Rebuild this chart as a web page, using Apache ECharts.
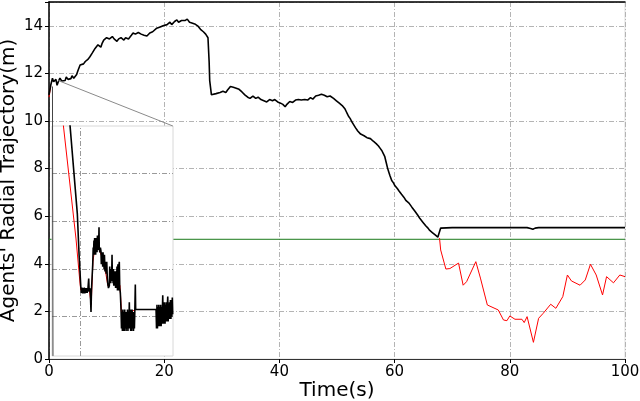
<!DOCTYPE html>
<html>
<head>
<meta charset="utf-8">
<script src="https://cdn.jsdelivr.net/npm/echarts@6/dist/echarts.min.js"></script>
<style>
  html, body { margin: 0; padding: 0; background: #fff; }
  #chart { width: 640px; height: 401px; }
</style>
</head>
<body>
<div id="chart"></div>
<script>
// main trajectory (black), [time, radius]
var mainTrace = [
  [0, 11.1], [0.3, 11.5], [0.6, 11.8], [0.8, 11.65], [1.0, 11.6], [1.2, 11.75], [1.4, 11.5], [1.7, 11.7], [1.9, 11.8], [2.2, 11.68],
  [2.5, 11.75], [2.8, 11.7], [3.0, 11.85], [3.3, 11.75], [3.5, 11.82], [3.8, 11.78], [4.0, 11.9], [4.3, 11.8], [4.5, 11.88], [4.8, 11.95],
  [5.0, 12.1], [5.2, 12.05], [5.4, 12.35], [5.7, 12.3], [6.0, 12.4], [6.3, 12.5], [6.5, 12.45], [6.8, 12.6], [7.1, 12.7], [7.3, 12.65],
  [7.5, 12.85], [7.8, 12.9], [8.0, 13.05], [8.3, 13.0], [8.5, 13.2], [8.8, 13.15], [9.0, 13.1], [9.2, 13.25], [9.5, 13.4], [9.8, 13.35],
  [10.0, 13.5], [10.3, 13.42], [10.5, 13.45], [10.8, 13.5], [11.0, 13.55], [11.3, 13.45], [11.5, 13.4], [11.8, 13.35], [12.1, 13.45], [12.5, 13.5],
  [12.8, 13.45], [13.0, 13.4], [13.3, 13.5], [13.5, 13.55], [13.8, 13.45], [14.0, 13.5], [14.3, 13.6], [14.6, 13.7], [14.8, 13.62], [15.0, 13.65],
  [15.3, 13.7], [15.5, 13.72], [15.8, 13.68], [16.0, 13.65], [16.3, 13.62], [16.5, 13.6], [16.8, 13.65], [17.0, 13.57], [17.3, 13.65], [17.5, 13.7],
  [17.8, 13.68], [18.0, 13.75], [18.3, 13.8], [18.7, 13.9], [19.0, 13.85], [19.3, 13.95], [19.6, 13.9], [19.8, 14.0], [20.1, 13.98], [20.5, 14.05],
  [20.8, 14.1], [21.0, 14.15], [21.3, 14.05], [21.5, 14.1], [21.8, 14.18], [22.2, 14.25], [22.5, 14.15], [22.7, 14.2], [23.0, 14.22], [23.3, 14.3],
  [23.6, 14.22], [23.8, 14.2], [24.0, 14.28], [24.2, 14.25], [24.4, 14.15], [24.6, 14.15], [24.8, 14.12], [25.0, 14.1], [25.3, 14.08], [25.5, 14.05],
  [25.8, 14.0], [26.0, 13.95], [26.3, 13.85], [26.5, 13.8], [26.8, 13.75], [27.0, 13.7], [27.2, 13.65], [27.4, 13.6], [27.6, 13.5], [27.8, 12.5],
  [27.9, 11.7], [28.2, 11.1], [28.5, 11.05], [29.0, 11.15], [29.3, 11.1], [29.7, 11.2], [30.0, 11.15], [30.2, 11.25], [30.5, 11.18], [30.7, 11.2],
  [31.0, 11.3], [31.2, 11.35], [31.5, 11.45], [31.7, 11.5], [32.0, 11.42], [32.2, 11.4], [32.5, 11.38], [32.7, 11.35], [33.0, 11.33], [33.2, 11.3],
  [33.5, 11.22], [33.7, 11.2], [34.0, 11.1], [34.2, 11.05], [34.5, 11.0], [34.9, 10.95], [35.2, 11.02], [35.4, 11.05], [35.7, 10.98], [35.9, 10.95],
  [36.1, 11.03], [36.3, 11.0], [36.6, 10.92], [36.8, 10.9], [37.1, 10.88], [37.3, 10.85], [37.6, 10.9], [37.8, 10.8], [38.1, 10.85], [38.3, 10.9],
  [38.6, 10.82], [38.8, 10.85], [39.0, 10.92], [39.2, 10.9], [39.5, 10.85], [39.7, 10.8], [40.0, 10.78], [40.2, 10.75], [40.4, 10.72], [40.6, 10.7],
  [40.8, 10.65], [41.0, 10.6], [41.3, 10.7], [41.5, 10.75], [41.8, 10.82], [42.0, 10.85], [42.3, 10.78], [42.5, 10.8], [42.8, 10.88], [43.0, 10.95],
  [43.3, 10.9], [43.5, 10.85], [43.8, 10.88], [44.1, 10.8], [44.4, 10.9], [44.6, 10.95], [44.9, 10.88], [45.1, 10.9], [45.4, 10.98], [45.6, 11.0],
  [45.8, 10.92], [46.0, 10.95], [46.3, 11.05], [46.5, 11.1], [46.8, 11.08], [47.0, 11.1], [47.3, 11.12], [47.5, 11.05], [47.8, 11.08], [48.0, 11.05],
  [48.3, 11.02], [48.5, 11.0], [48.8, 11.05], [49.1, 11.0], [49.4, 10.95], [49.6, 10.9], [49.9, 10.85], [50.1, 10.8], [50.4, 10.75], [50.6, 10.7],
  [50.9, 10.65], [51.1, 10.6], [51.4, 10.5], [51.6, 10.4], [51.8, 10.3], [52.0, 10.2], [52.3, 10.1], [52.5, 10.0], [52.8, 9.88], [53.0, 9.8],
  [53.2, 9.72], [53.4, 9.65], [53.6, 9.58], [53.8, 9.5], [54.1, 9.45], [54.4, 9.4], [54.7, 9.38], [55.0, 9.35], [55.2, 9.3], [55.5, 9.3],
  [55.8, 9.26], [56.0, 9.24], [56.3, 9.15], [56.5, 9.1], [56.8, 9.05], [57.0, 9.0], [57.2, 8.95], [57.5, 8.85], [57.8, 8.75], [58.0, 8.65],
  [58.3, 8.5], [58.5, 8.3], [58.8, 8.0], [59.0, 7.85], [59.2, 7.7], [59.5, 7.5], [59.8, 7.4], [60.0, 7.3], [60.3, 7.22], [60.5, 7.15],
  [60.8, 7.05], [61.0, 7.0], [61.2, 6.92], [61.4, 6.85], [61.6, 6.8], [61.8, 6.75], [62.0, 6.65], [62.2, 6.6], [62.5, 6.55], [62.7, 6.5],
  [63.0, 6.38], [63.2, 6.3], [63.5, 6.22], [63.7, 6.15], [64.0, 6.05], [64.4, 5.9], [64.6, 5.85], [64.9, 5.75], [65.1, 5.68], [65.4, 5.6],
  [65.6, 5.55], [65.8, 5.5], [66.1, 5.4], [66.4, 5.35], [66.6, 5.3], [66.9, 5.25], [67.1, 5.2], [67.3, 5.15], [67.5, 5.12], [67.8, 5.08],
  [68.0, 5.5], [68.3, 5.52], [70, 5.52], [75, 5.52], [80, 5.52], [83, 5.52], [83.6, 5.48], [84, 5.45], [84.4, 5.5], [85, 5.52],
  [90, 5.52], [95, 5.52], [100, 5.52]
];

// red trajectory in main plot
var redTrace = [
  [0, 11.0], [0.3, 11.45], null,
  [67.8, 5.08], [68.0, 4.58], [68.9, 3.78], [69.6, 3.8], [71.1, 4.03], [71.9, 3.1], [72.5, 3.25], [74.1, 4.09], [74.9, 3.4], [76.1, 2.27],
  [78.0, 2.06], [78.9, 1.64], [79.5, 1.61], [80.0, 1.81], [80.9, 1.67], [82.1, 1.67], [82.5, 1.53], [83.0, 1.78], [84.1, 0.7], [85.0, 1.71],
  [85.8, 1.92], [87.1, 2.3], [88.0, 2.13], [89.2, 2.62], [90.0, 3.53], [90.7, 3.28], [92.2, 3.1], [93.1, 3.32], [94.0, 3.98], [95.0, 3.53],
  [96.1, 2.69], [96.8, 3.46], [98.0, 3.2], [99.1, 3.53], [100, 3.46]
];

var greenLevel = 5.03;

// inset (zoomed) traces
var insetBlackTrace = [
  [3.5, 10.4], [4.9, 6.3], [5.2, 4.6], [5.5, 3.25], [5.6, 3.0], [5.7, 3.22], [5.8, 2.98], [5.9, 3.2], [6.0, 2.98], [6.1, 3.22],
  [6.2, 2.98], [6.3, 3.2], [6.4, 3.0], [6.5, 3.2], [6.6, 3.0], [6.75, 3.2], [6.87, 3.6], [6.95, 3.05], [7.05, 3.2], [7.15, 3.0],
  [7.27, 2.2], [7.35, 3.1], [7.57, 4.2], [7.65, 4.9], [7.7, 4.6], [7.78, 5.2], [7.84, 4.7], [7.9, 5.3], [7.96, 4.6], [8.02, 5.2],
  [8.08, 4.6], [8.14, 5.3], [8.2, 4.7], [8.26, 5.2], [8.32, 4.7], [8.38, 5.4], [8.44, 4.8], [8.5, 5.2], [8.58, 4.8], [8.66, 5.75],
  [8.7, 4.9], [8.8, 4.7], [8.9, 4.9], [9.0, 4.75], [9.06, 4.2], [9.12, 4.7], [9.18, 4.2], [9.24, 4.6], [9.3, 4.1], [9.36, 4.7],
  [9.42, 4.1], [9.48, 4.6], [9.54, 4.0], [9.6, 4.6], [9.7, 3.9], [9.8, 4.3], [9.9, 3.8], [10.0, 4.3], [10.1, 3.6], [10.17, 3.4],
  [10.3, 3.2], [10.45, 3.3], [10.52, 4.1], [10.58, 3.4], [10.64, 4.0], [10.7, 3.4], [10.76, 4.0], [10.84, 3.5], [10.92, 4.6], [10.98, 3.5],
  [11.04, 4.0], [11.1, 3.4], [11.16, 4.0], [11.22, 3.3], [11.3, 3.9], [11.38, 3.3], [11.46, 3.9], [11.54, 3.2], [11.62, 3.9], [11.7, 3.2],
  [11.78, 4.1], [11.86, 3.1], [11.94, 4.2], [12.02, 3.1], [12.1, 4.1], [12.18, 4.3], [12.26, 3.2], [12.36, 3.0], [12.48, 2.3], [12.56, 1.5],
  [12.64, 2.2], [12.72, 1.4], [12.8, 2.3], [12.88, 1.4], [12.96, 2.2], [13.04, 1.4], [13.12, 2.3], [13.2, 1.5], [13.28, 2.2], [13.36, 1.4],
  [13.44, 2.2], [13.52, 1.5], [13.6, 2.3], [13.68, 1.4], [13.76, 2.2], [13.84, 1.5], [13.92, 2.6], [14.0, 1.5], [14.08, 2.3], [14.16, 1.4],
  [14.24, 2.3], [14.32, 1.4], [14.4, 2.3], [14.48, 1.5], [14.56, 2.2], [14.64, 1.4], [14.72, 2.2], [14.8, 1.5], [14.88, 2.3], [14.96, 3.35],
  [15.02, 2.3], [15.08, 2.3], [18.56, 2.3], [18.64, 1.5], [18.72, 2.5], [18.8, 1.5], [18.88, 2.4], [18.96, 1.6], [19.04, 2.5], [19.12, 1.6],
  [19.2, 2.4], [19.28, 1.6], [19.36, 2.5], [19.44, 1.6], [19.52, 2.4], [19.6, 1.7], [19.72, 2.9], [19.8, 1.7], [19.88, 2.6], [19.96, 1.7],
  [20.04, 2.6], [20.12, 1.7], [20.2, 2.5], [20.28, 1.8], [20.36, 2.6], [20.44, 1.8], [20.52, 2.5], [20.59, 2.85], [20.66, 1.8], [20.74, 2.5],
  [20.82, 1.9], [20.9, 2.6], [20.98, 1.9], [21.06, 2.7], [21.14, 1.9], [21.22, 2.7], [21.3, 2.0], [21.38, 2.8], [21.45, 2.1]
];
var insetRedTrace = [
  [2.3, 10.4], [4.67, 5.26], [5.36, 3.41], [5.5, 3.1], [7.0, 3.1], [7.3, 2.5], [7.6, 4.3], [8.0, 5.0], [8.7, 4.8], [9.5, 4.3],
  [10.2, 3.3], [10.5, 3.4], [11.0, 4.0], [12.3, 3.3], [12.6, 2.0], [15.0, 2.3], [18.5, 2.3], [21.45, 2.3]
];
var insetGridY = [2, 4, 6, 8];
var insetGridX = [5.4];

var font = 'DejaVu Sans';
var gridDash = [5, 2, 1, 2];

var chart = echarts.init(document.getElementById('chart'));
chart.setOption({
  animation: false,
  textStyle: { fontFamily: font },
  grid: [
    { left: 49, right: 15, top: 2, bottom: 42, z: 0, containLabel: false, outerBoundsMode: 'none',
      show: true, borderColor: '#dcdcdc', borderWidth: 1, backgroundColor: 'transparent' },
    { left: 52, width: 121, top: 126, height: 230, z: 5, containLabel: false, outerBoundsMode: 'none',
      show: true, borderColor: '#d8d8d8', borderWidth: 1, backgroundColor: '#fff' }
  ],
  xAxis: [
    {
      gridIndex: 0, type: 'value', min: 0, max: 100, interval: 20, z: 1,
      name: 'Time(s)', nameLocation: 'middle', nameGap: 22, nameMoveOverlap: false,
      nameTextStyle: { fontSize: 20, color: '#000', fontFamily: font },
      axisLine: { lineStyle: { color: '#333', width: 1 } },
      axisTick: { length: 4, lineStyle: { color: '#000' } },
      axisLabel: { fontSize: 15, color: '#000', margin: 6, fontFamily: font },
      splitLine: { show: true, lineStyle: { color: '#b4b4b4', type: gridDash, width: 1 } }
    },
    {
      gridIndex: 0, type: 'value', min: 0, max: 100, position: 'top', z: 1,
      axisLine: { lineStyle: { color: '#000', width: 1.5 } },
      axisTick: { show: false }, axisLabel: { show: false }, splitLine: { show: false }
    },
    {
      gridIndex: 1, type: 'value', min: 0.5, max: 21.5, z: 6,
      axisLine: { show: false }, axisTick: { show: false }, axisLabel: { show: false }, splitLine: { show: false }
    }
  ],
  yAxis: [
    {
      gridIndex: 0, type: 'value', min: 0, max: 15, interval: 2, z: 1,
      name: "Agents' Radial Trajectory(m)", nameLocation: 'middle', nameGap: 30, nameRotate: 90, nameMoveOverlap: false,
      nameTextStyle: { fontSize: 20, color: '#000', fontFamily: font },
      axisLine: { show: true, lineStyle: { color: '#000', width: 1.5 } },
      axisTick: { show: true, length: 4, lineStyle: { color: '#000' } },
      axisLabel: { fontSize: 15, color: '#000', margin: 6, fontFamily: font,
        formatter: function (v) { return v > 14 ? '' : v; } },
      splitLine: { show: true, lineStyle: { color: '#b4b4b4', type: gridDash, width: 1 } }
    },
    {
      gridIndex: 1, type: 'value', min: 0.35, max: 10, z: 6,
      axisLine: { show: false }, axisTick: { show: false }, axisLabel: { show: false }, splitLine: { show: false }
    }
  ],
  series: [
    {
      type: 'line', xAxisIndex: 0, yAxisIndex: 0, z: 2, symbol: 'none', silent: true,
      data: [[0, greenLevel], [100, greenLevel]],
      lineStyle: { color: '#1a7a1a', width: 1 }
    },
    {
      type: 'line', xAxisIndex: 0, yAxisIndex: 0, z: 3, symbol: 'none', silent: true, connectNulls: false,
      data: redTrace,
      lineStyle: { color: '#ff0000', width: 1 }
    },
    {
      type: 'line', xAxisIndex: 0, yAxisIndex: 0, z: 4, symbol: 'none', silent: true,
      data: mainTrace,
      lineStyle: { color: '#000', width: 1.6 }
    },
    {
      // inset grid lines
      type: 'line', xAxisIndex: 2, yAxisIndex: 1, z: 6, symbol: 'none', silent: true, data: [],
      markLine: {
        silent: true, symbol: ['none', 'none'], label: { show: false },
        lineStyle: { color: '#9a9a9a', type: gridDash, width: 1 },
        data: insetGridY.map(function (v) { return { yAxis: v }; })
          .concat(insetGridX.map(function (v) { return { xAxis: v }; }))
      }
    },
    {
      type: 'line', xAxisIndex: 2, yAxisIndex: 1, z: 7, symbol: 'none', silent: true,
      data: insetRedTrace,
      lineStyle: { color: '#ff0000', width: 1 }
    },
    {
      type: 'line', xAxisIndex: 2, yAxisIndex: 1, z: 8, symbol: 'none', silent: true,
      data: insetBlackTrace,
      lineStyle: { color: '#000', width: 1.6 }
    },
    {
      // zoom connectors
      type: 'line', xAxisIndex: 0, yAxisIndex: 0, z: 9, symbol: 'none', silent: true,
      data: [[1.6, 11.7], [21.5, 9.79]],
      lineStyle: { color: '#8a8a8a', width: 1 }
    },
    {
      type: 'line', xAxisIndex: 0, yAxisIndex: 0, z: 9, symbol: 'none', silent: true,
      data: [[0.6, 11.45], [0.69, 0.13]],
      lineStyle: { color: '#444', width: 1 }
    }
  ]
});
</script>
</body>
</html>
